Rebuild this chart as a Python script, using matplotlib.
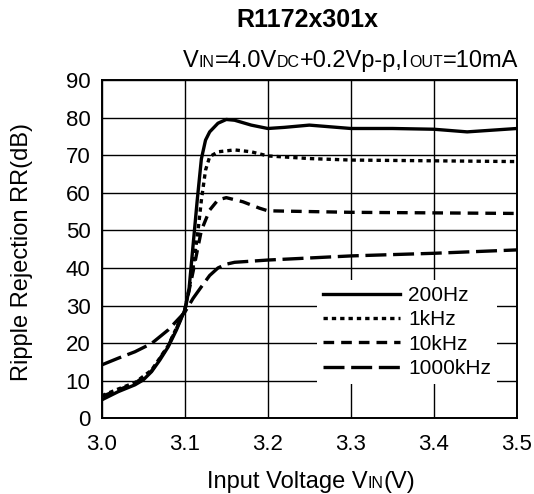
import matplotlib
matplotlib.use("Agg")
import matplotlib.pyplot as plt

plt.rcParams['font.family'] = ['Liberation Sans', 'DejaVu Sans']

# ---- data ----
x_200 = [3.0, 3.02, 3.04, 3.05, 3.06, 3.07, 3.08, 3.09, 3.10, 3.105, 3.11, 3.115, 3.12, 3.125, 3.13, 3.14, 3.15, 3.16, 3.18, 3.20, 3.22, 3.25, 3.30, 3.35, 3.40, 3.44, 3.50]
y_200 = [4.9, 7.1, 8.9, 10.2, 12.4, 15.5, 19.0, 23.5, 28.8, 34.0, 46.0, 58.0, 69.0, 74.0, 76.2, 78.5, 79.5, 79.3, 78.0, 77.1, 77.4, 78.0, 77.1, 77.1, 76.9, 76.2, 77.1]

x_1k = [3.0, 3.02, 3.04, 3.06, 3.08, 3.10, 3.11, 3.116, 3.12, 3.125, 3.13, 3.14, 3.16, 3.18, 3.20, 3.25, 3.30, 3.40, 3.50]
y_1k = [6.0, 7.8, 9.5, 12.8, 19.3, 28.8, 40.0, 50.0, 58.0, 66.0, 69.6, 70.9, 71.4, 70.9, 69.8, 69.1, 68.7, 68.5, 68.3]

x_10k = [3.0, 3.04, 3.06, 3.08, 3.10, 3.11, 3.12, 3.13, 3.14, 3.15, 3.17, 3.19, 3.20, 3.25, 3.30, 3.50]
y_10k = [5.8, 9.3, 12.6, 19.2, 28.6, 39.0, 50.0, 55.4, 58.1, 58.7, 57.6, 55.9, 55.2, 55.0, 54.8, 54.5]

x_1000k = [3.0, 3.02, 3.04, 3.06, 3.08, 3.10, 3.11, 3.12, 3.13, 3.14, 3.15, 3.16, 3.20, 3.30, 3.40, 3.50]
y_1000k = [14.2, 16.0, 17.7, 19.9, 23.5, 28.2, 31.9, 35.0, 38.0, 40.0, 41.0, 41.5, 42.1, 43.2, 43.9, 44.8]

labels = ["200Hz", "1kHz", "10kHz", "1000kHz"]
x_ticks = [3.0, 3.1, 3.2, 3.3, 3.4, 3.5]
x_tick_labels = ["3.0", "3.1", "3.2", "3.3", "3.4", "3.5"]
y_ticks = [0, 10, 20, 30, 40, 50, 60, 70, 80, 90]

W, H = 534, 494
fig = plt.figure(figsize=(W / 100, H / 100), dpi=100)
ax = fig.add_axes([101.7 / W, 1 - 418.3 / H, (517 - 101.7) / W, (418.3 - 80) / H])

lw = 2.4
ax.plot(x_200, y_200, color='black', lw=lw, ls='-', label=labels[0])
ax.plot(x_1k, y_1k, color='black', lw=lw, ls=(0, (1.3, 1.2)), label=labels[1])
ax.plot(x_10k, y_10k, color='black', lw=lw, ls=(0, (3.2, 2.1)), label=labels[2])
ax.plot(x_1000k, y_1000k, color='black', lw=lw, ls=(0, (6.3, 2.0)), label=labels[3])

ax.set_xlim(3.0, 3.5)
ax.set_ylim(0, 90)
ax.set_xticks(x_ticks)
ax.set_xticklabels(x_tick_labels)
ax.set_yticks(y_ticks)
ax.grid(True, color='black', lw=1.0)
ax.set_axisbelow(True)
ax.tick_params(length=0, labelsize=16)
ax.tick_params(axis='x', pad=11)
ax.tick_params(axis='y', pad=8)
for s in ax.spines.values():
    s.set_linewidth(1.4)

leg = ax.legend(loc='upper left', bbox_to_anchor=(0.5184, 0.4088), frameon=True,
                fancybox=False, edgecolor='none', facecolor='white', framealpha=1,
                fontsize=15, handlelength=3.7, handletextpad=0.38,
                labelspacing=0.25, borderpad=0.3, borderaxespad=0)

renderer = fig.canvas.get_renderer()


def rich_text(x, y_base, parts, ha):
    """Draw text pieces of different sizes on a common baseline (figure pixels)."""
    objs = []
    widths = []
    for t, fs, fw in parts:
        o = fig.text(0, 0, t, fontsize=fs, fontweight=fw, va='baseline', ha='left')
        widths.append(o.get_window_extent(renderer).width)
        objs.append(o)
    total = sum(widths)
    if ha == 'center':
        x0 = x - total / 2
    elif ha == 'right':
        x0 = x - total
    else:
        x0 = x
    for o, w in zip(objs, widths):
        o.set_position((x0 / W, y_base / H))
        x0 += w


big, small = 17, 11.5
# title
rich_text(307, H - 27.3, [("R1172x301x", 18, 'bold')], 'center')
# subtitle
rich_text(518, H - 66.7, [("V", big, 'normal'), ("IN", small, 'normal'),
                          ("=4.0V", big, 'normal'), ("DC", small, 'normal'),
                          ("+0.2Vp-p,I", big, 'normal'), ("OUT", small, 'normal'),
                          ("=10mA", big, 'normal')], 'right')
# x label
rich_text(311, H - 488, [("Input Voltage V", big, 'normal'), ("IN", small, 'normal'),
                         ("(V)", big, 'normal')], 'center')
# y label
fig.text(22 / W, 1 - 252 / H, "Ripple Rejection RR(dB)", fontsize=17, rotation=90,
         ha='center', va='center')

fig.savefig("out.png", dpi=100)
